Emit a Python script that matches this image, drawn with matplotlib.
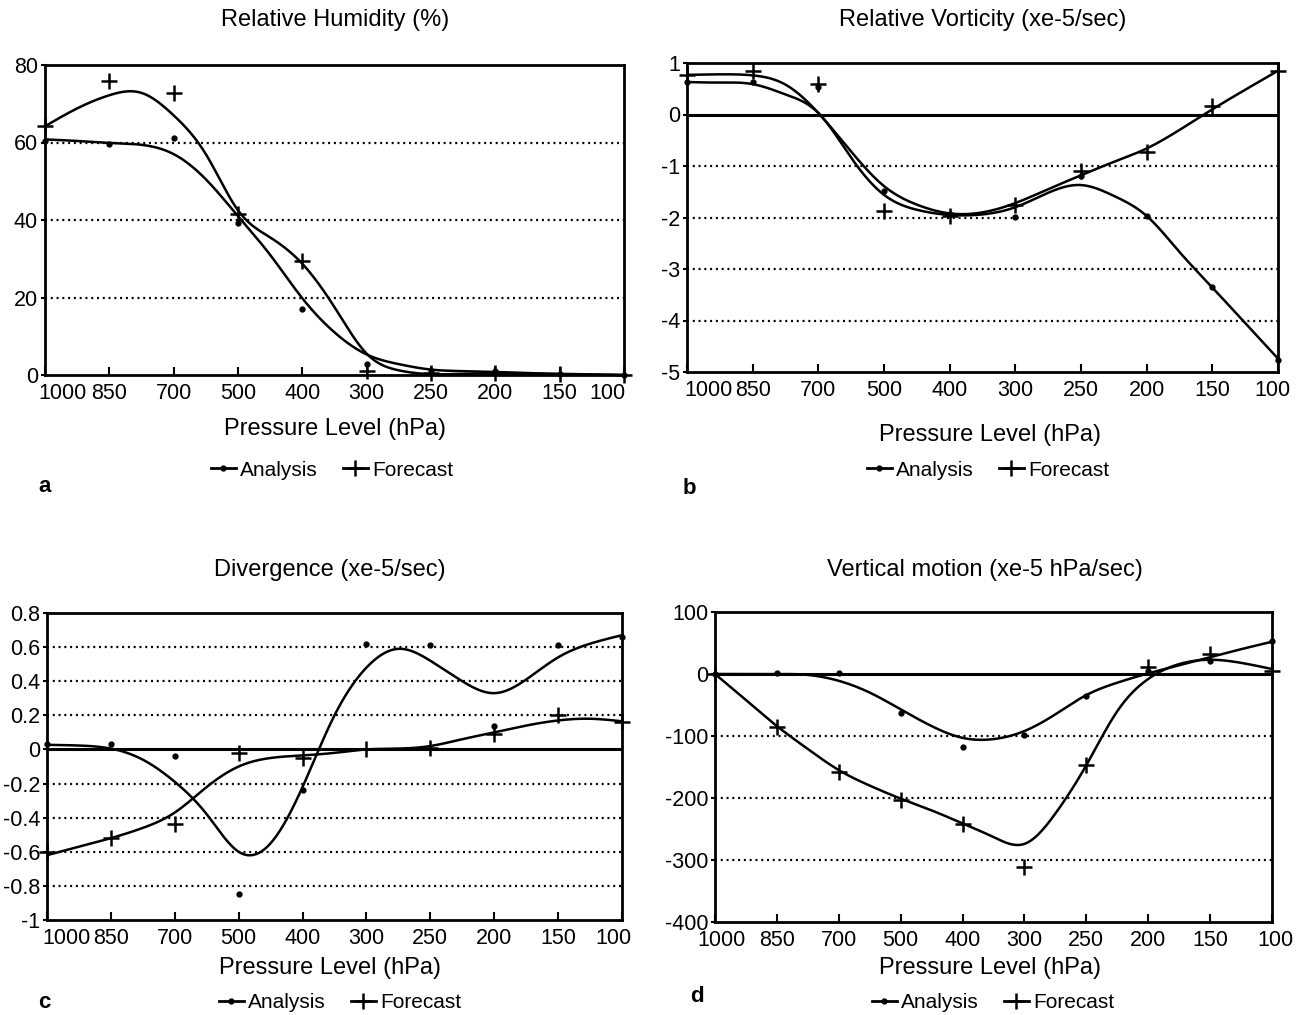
import numpy as np
import matplotlib
matplotlib.use("Agg")
import matplotlib.pyplot as plt
from matplotlib.lines import Line2D
from matplotlib import font_manager

plt.rcParams['font.family'] = ['Liberation Sans', 'DejaVu Sans']

_names = {f.name for f in font_manager.fontManager.ttflist}
if 'Liberation Sans Narrow' in _names:
    TICK_FAMILY = ['Liberation Sans Narrow', 'Liberation Sans']
    TICK_SIZE = 18
else:
    TICK_FAMILY = ['Liberation Sans', 'DejaVu Sans']
    TICK_SIZE = 15.5

W, H = 1311, 1015

levels = ["1000", "850", "700", "500", "400", "300", "250", "200", "150", "100"]

# ---- data points (markers) ----
# Relative humidity (%)
rh_analysis = [60.5, 59.7, 61.2, 39.3, 17.1, 2.8, 1.0, 1.0, 0.3, 0.0]
rh_forecast = [64.2, 75.9, 72.8, 41.5, 29.4, 1.1, 0.5, 0.5, 0.2, 0.0]
# Relative vorticity (xe-5/sec)
vo_analysis = [0.63, 0.64, 0.53, -1.49, -1.93, -1.99, -1.20, -1.98, -3.34, -4.76]
vo_forecast = [0.77, 0.84, 0.59, -1.88, -1.98, -1.75, -1.10, -0.73, 0.16, 0.85]
# Divergence (xe-5/sec)
dv_analysis = [0.03, 0.03, -0.04, -0.85, -0.24, 0.62, 0.61, 0.14, 0.61, 0.66]
dv_forecast = [-0.60, -0.52, -0.44, -0.02, -0.05, 0.00, 0.01, 0.09, 0.20, 0.16]
# Vertical motion (xe-5 hPa/sec)
vm_analysis = [0, 2, 2, -63, -117, -98, -36, 5, 21, 53]
vm_forecast = [0, -85, -158, -203, -242, -312, -146, 12, 32, 5]

# ---- smoothed curves as drawn in the chart, read at every half level ----
curve_pos = [i * 0.5 for i in range(19)]
rh_analysis_curve = [60.8, 60.4, 59.9, 59.4, 57.0, 50.5, 41.0, 31.0, 19.8, 11.0, 5.3, 2.8, 1.4, 1.0, 0.8, 0.5, 0.3, 0.15, 0.0]
rh_forecast_curve = [64.2, 68.8, 72.2, 72.8, 67.0, 57.0, 42.5, 35.5, 28.7, 17.5, 5.5, 1.2, 0.2, 0.3, 0.4, 0.3, 0.2, 0.1, 0.0]
vo_analysis_curve = [0.63, 0.62, 0.59, 0.39, 0.03, -0.84, -1.56, -1.85, -1.95, -1.94, -1.80, -1.52, -1.37, -1.58, -1.97, -2.67, -3.36, -4.05, -4.74]
vo_forecast_curve = [0.77, 0.78, 0.76, 0.58, 0.03, -0.72, -1.39, -1.75, -1.92, -1.90, -1.72, -1.45, -1.18, -0.92, -0.66, -0.30, 0.10, 0.48, 0.85]
dv_analysis_curve = [0.027, 0.023, 0.005, -0.06, -0.19, -0.38, -0.60, -0.55, -0.22, 0.20, 0.48, 0.59, 0.52, 0.40, 0.33, 0.41, 0.54, 0.62, 0.67]
dv_forecast_curve = [-0.62, -0.57, -0.52, -0.46, -0.37, -0.22, -0.10, -0.05, -0.035, -0.02, 0.0, 0.005, 0.02, 0.06, 0.10, 0.14, 0.17, 0.18, 0.165]
vm_analysis_curve = [0, 0, 0, -1.5, -11, -30, -57, -84, -103, -105, -92, -65, -34, -14, 1, 14, 27, 40, 52]
vm_forecast_curve = [0, -42, -84, -121, -155, -180, -201, -220, -241, -263, -274, -225, -147, -60, -8, 16, 23, 18, 8]


def natural_spline(xk, yk, xs):
    xk = np.asarray(xk, float)
    yk = np.asarray(yk, float)
    n = len(xk)
    h = np.diff(xk)
    A = np.zeros((n, n))
    rhs = np.zeros(n)
    A[0, 0] = A[-1, -1] = 1.0
    for i in range(1, n - 1):
        A[i, i - 1] = h[i - 1]
        A[i, i] = 2 * (h[i - 1] + h[i])
        A[i, i + 1] = h[i]
        rhs[i] = 6 * ((yk[i + 1] - yk[i]) / h[i] - (yk[i] - yk[i - 1]) / h[i - 1])
    M = np.linalg.solve(A, rhs)
    idx = np.clip(np.searchsorted(xk, xs) - 1, 0, n - 2)
    x0, x1 = xk[idx], xk[idx + 1]
    hh = x1 - x0
    a = (x1 - xs) / hh
    b = (xs - x0) / hh
    return (a * yk[idx] + b * yk[idx + 1]
            + ((a ** 3 - a) * M[idx] + (b ** 3 - b) * M[idx + 1]) * hh ** 2 / 6)


panels = [
    dict(rect=(45, 624, 65, 375), a=rh_analysis, f=rh_forecast, ac=rh_analysis_curve, fc=rh_forecast_curve,
         ylim=(0, 80), yticks=[0, 20, 40, 60, 80], dotted=[20, 40, 60], title="Relative Humidity (%)",
         tx=335, ty=20, xlx=335, xly=429, lgx=332, lgy=470, letter="a", ltx=38, lty=487, offs=(0.27, -0.25)),
    dict(rect=(687, 1278, 63, 372), a=vo_analysis, f=vo_forecast, ac=vo_analysis_curve, fc=vo_forecast_curve,
         ylim=(-5, 1), yticks=[-5, -4, -3, -2, -1, 0, 1], dotted=[-1, -2, -3, -4],
         title="Relative Vorticity (xe-5/sec)",
         tx=983, ty=20, xlx=990, xly=435, lgx=988, lgy=470, letter="b", ltx=683, lty=489, offs=(0.32, -0.08)),
    dict(rect=(47, 622, 613, 920), a=dv_analysis, f=dv_forecast, ac=dv_analysis_curve, fc=dv_forecast_curve,
         ylim=(-1, 0.8), yticks=[-1, -0.8, -0.6, -0.4, -0.2, 0, 0.2, 0.4, 0.6, 0.8],
         dotted=[-0.8, -0.6, -0.4, -0.2, 0.2, 0.4, 0.6], title="Divergence (xe-5/sec)",
         tx=330, ty=570, xlx=330, xly=968, lgx=340, lgy=1003, letter="c", ltx=38, lty=1003, offs=(0.31, -0.14)),
    dict(rect=(715, 1272, 612, 922), a=vm_analysis, f=vm_forecast, ac=vm_analysis_curve, fc=vm_forecast_curve,
         ylim=(-400, 100), yticks=[-400, -300, -200, -100, 0, 100], dotted=[-100, -200, -300],
         title="Vertical motion (xe-5 hPa/sec)",
         tx=985, ty=570, xlx=990, xly=968, lgx=993, lgy=1003, letter="d", ltx=690, lty=996, offs=(0.11, 0.05)),
]


def fmt(v):
    if abs(v - round(v)) < 1e-9:
        return "%d" % round(v)
    return "%g" % v


fig = plt.figure(figsize=(W / 100, H / 100), dpi=100)
fig.patch.set_facecolor('white')

x = np.arange(len(levels))
xs = np.linspace(0, len(levels) - 1, 600)

for p in panels:
    l, r, t, b = p['rect']
    ax = fig.add_axes([l / W, 1 - b / H, (r - l) / W, (b - t) / H])
    ax.set_xlim(0, len(levels) - 1)
    ax.set_ylim(*p['ylim'])
    for s in ax.spines.values():
        s.set_linewidth(2.0)
        s.set_color('black')
    for yv in p['dotted']:
        ax.axhline(yv, color='black', lw=1.6, ls=(0, (0.9, 1.7)), zorder=1)
    if p['ylim'][0] < 0 < p['ylim'][1]:
        ax.axhline(0, color='black', lw=2.2, zorder=2)
    for curve in (p['ac'], p['fc']):
        ax.plot(xs, natural_spline(curve_pos, curve, xs), color='black', lw=1.8, zorder=3,
                solid_capstyle='round')
    ax.plot(x, p['a'], ls='none', marker='o', ms=3.5, color='black', zorder=4, clip_on=False)
    ax.plot(x, p['f'], ls='none', marker='+', ms=12, mew=1.8, color='black', zorder=4, clip_on=False)
    ax.set_yticks(p['yticks'])
    ax.set_yticklabels([fmt(v) for v in p['yticks']], fontsize=TICK_SIZE, family=TICK_FAMILY)
    ax.tick_params(axis='y', direction='out', length=3, width=1.5, pad=2)
    ax.set_xticks(x)
    ax.set_xticklabels([])
    ax.tick_params(axis='x', direction='in', length=6, width=1.5, top=False)
    o0, o1 = p['offs']
    for i, lab in enumerate(levels):
        off = o0 if i == 0 else (o1 if i == len(levels) - 1 else 0.0)
        ax.annotate(lab, xy=(i + off, 0), xycoords=('data', 'axes fraction'),
                    xytext=(0, -8), textcoords='offset pixels', ha='center', va='top',
                    fontsize=TICK_SIZE, family=TICK_FAMILY)
    fig.text(p['tx'] / W, 1 - p['ty'] / H, p['title'], ha='center', va='center', fontsize=17)
    fig.text(p['xlx'] / W, 1 - p['xly'] / H, "Pressure Level (hPa)", ha='center', va='center', fontsize=17)
    fig.text(p['ltx'] / W, 1 - p['lty'] / H, p['letter'], ha='left', va='center', fontsize=16,
             fontweight='bold')
    handles = [Line2D([], [], color='black', lw=2, marker='o', ms=3.5),
               Line2D([], [], color='black', lw=2, marker='+', ms=12, mew=1.8)]
    fig.legend(handles, ["Analysis", "Forecast"], loc='center',
               bbox_to_anchor=(p['lgx'] / W, 1 - p['lgy'] / H), ncol=2, frameon=False,
               fontsize=15, handlelength=1.2, handletextpad=0.2, columnspacing=1.2,
               borderpad=0, borderaxespad=0)

fig.savefig("out.png", dpi=100)
